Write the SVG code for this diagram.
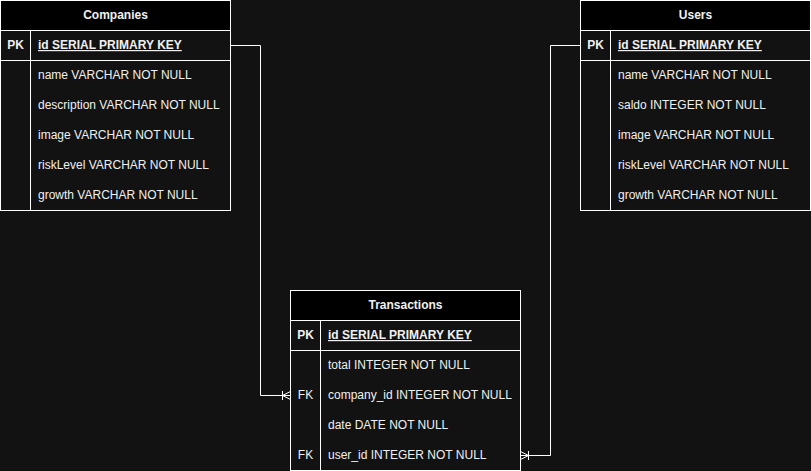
<svg xmlns="http://www.w3.org/2000/svg" width="811" height="471" viewBox="0 0 811 471">
<style>
.bg{fill:#121212}
.hdr{fill:#000;stroke:#fff;stroke-width:1}
.box{fill:#121212;stroke:#fff;stroke-width:1}
.ln{stroke:#fff;stroke-width:1;fill:none}
text{font-family:"Liberation Sans",Arial,Helvetica,sans-serif;font-size:12px;fill:#f0f0f0}
.t{font-weight:bold;text-anchor:middle}
.k{font-weight:bold;text-anchor:middle}
.pk{font-weight:bold;text-decoration:underline}
</style>
<rect class="bg" x="0" y="0" width="811" height="471"/>
<g id="connectors">
<path class="ln" d="M230.5,45.5 H260.5 V395.5 H290.5"/>
<path class="ln" d="M282.5,391 V400 M290.5,391.5 L282.5,395.5 L290.5,399.5"/>
<path class="ln" d="M580.5,45.5 H550.5 V455.5 H520.5"/>
<path class="ln" d="M528.5,451 V460 M520.5,451.5 L528.5,455.5 L520.5,459.5"/>
</g>
<g id="companies">
<rect class="box" x="0.5" y="0.5" width="230" height="210"/>
<rect class="hdr" x="0.5" y="0.5" width="230" height="30"/>
<path class="ln" d="M0.5,60.5 H230.5 M30.5,30.5 V210.5"/>
<text class="t" x="115.5" y="19">Companies</text>
<text class="k" x="15.5" y="49">PK</text>
<text class="pk" x="38" y="49">id SERIAL PRIMARY KEY</text>
<text x="38" y="79">name VARCHAR NOT NULL</text>
<text x="38" y="109">description VARCHAR NOT NULL</text>
<text x="38" y="139">image VARCHAR NOT NULL</text>
<text x="38" y="169">riskLevel VARCHAR NOT NULL</text>
<text x="38" y="199">growth VARCHAR NOT NULL</text>
</g>
<g id="users">
<rect class="box" x="580.5" y="0.5" width="230" height="210"/>
<rect class="hdr" x="580.5" y="0.5" width="230" height="30"/>
<path class="ln" d="M580.5,60.5 H810.5 M610.5,30.5 V210.5"/>
<text class="t" x="695.5" y="19">Users</text>
<text class="k" x="595.5" y="49">PK</text>
<text class="pk" x="618" y="49">id SERIAL PRIMARY KEY</text>
<text x="618" y="79">name VARCHAR NOT NULL</text>
<text x="618" y="109">saldo INTEGER NOT NULL</text>
<text x="618" y="139">image VARCHAR NOT NULL</text>
<text x="618" y="169">riskLevel VARCHAR NOT NULL</text>
<text x="618" y="199">growth VARCHAR NOT NULL</text>
</g>
<g id="transactions">
<rect class="box" x="290.5" y="290.5" width="230" height="180"/>
<rect class="hdr" x="290.5" y="290.5" width="230" height="30"/>
<path class="ln" d="M290.5,350.5 H520.5 M320.5,320.5 V470.5"/>
<text class="t" x="405.5" y="309">Transactions</text>
<text class="k" x="305.5" y="339">PK</text>
<text class="pk" x="328" y="339">id SERIAL PRIMARY KEY</text>
<text x="328" y="369">total INTEGER NOT NULL</text>
<text x="305.5" y="399" text-anchor="middle">FK</text>
<text x="328" y="399">company_id INTEGER NOT NULL</text>
<text x="328" y="429">date DATE NOT NULL</text>
<text x="305.5" y="459" text-anchor="middle">FK</text>
<text x="328" y="459">user_id INTEGER NOT NULL</text>
</g>
</svg>
